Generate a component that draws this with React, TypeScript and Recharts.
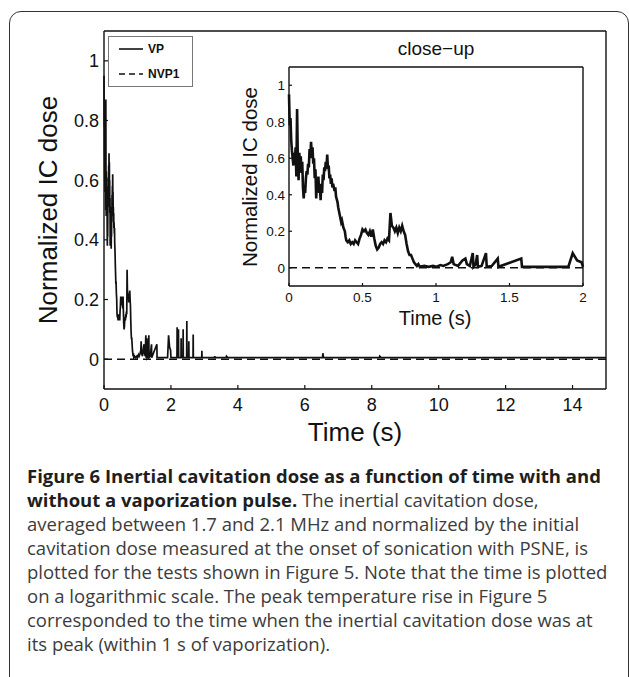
import { LineChart, Line, XAxis, YAxis } from "recharts";

// VP test: normalized inertial cavitation dose vs time (s)
const vpTime = [
  0, 0.005, 0.01, 0.015, 0.02, 0.025, 0.03, 0.035, 0.04, 0.045, 0.05, 0.055, 0.06, 0.065, 0.07, 0.075, 0.08,
  0.085, 0.09, 0.095, 0.1, 0.105, 0.11, 0.115, 0.12, 0.125, 0.13, 0.135, 0.14, 0.145, 0.15, 0.155, 0.16,
  0.165, 0.17, 0.175, 0.18, 0.185, 0.19, 0.195, 0.2, 0.205, 0.21, 0.215, 0.22, 0.225, 0.23, 0.235, 0.24,
  0.245, 0.25, 0.255, 0.26, 0.265, 0.27, 0.275, 0.28, 0.285, 0.29, 0.295, 0.3, 0.31, 0.315, 0.32, 0.33,
  0.335, 0.34, 0.35, 0.355, 0.36, 0.37, 0.38, 0.385, 0.39, 0.4, 0.41, 0.42, 0.43, 0.44, 0.45, 0.46, 0.47,
  0.48, 0.49, 0.5, 0.51, 0.52, 0.53, 0.54, 0.55, 0.56, 0.57, 0.58, 0.59, 0.6, 0.61, 0.62, 0.63, 0.64, 0.65,
  0.66, 0.67, 0.68, 0.69, 0.7, 0.71, 0.72, 0.73, 0.74, 0.75, 0.76, 0.77, 0.78, 0.79, 0.8, 0.81, 0.82, 0.83,
  0.84, 0.85, 0.86, 0.87, 0.88, 0.89, 0.92, 0.95, 0.98, 1.0, 1.03, 1.05, 1.08, 1.1, 1.11, 1.12, 1.15, 1.18,
  1.2, 1.21, 1.23, 1.25, 1.255, 1.27, 1.28, 1.285, 1.31, 1.34, 1.345, 1.38, 1.42, 1.425, 1.58, 1.585, 1.9,
  1.93, 1.96, 1.99, 2.0, 2.18, 2.185, 2.19, 2.22, 2.225, 2.23, 2.3, 2.305, 2.31, 2.36, 2.365, 2.37, 2.47,
  2.475, 2.48, 2.53, 2.535, 2.54, 2.66, 2.665, 2.67, 2.92, 2.925, 2.93, 3.3, 3.31, 3.32, 3.65, 3.66, 3.7,
  6.53, 6.54, 6.56, 8.23, 8.24, 8.28, 15,
];
const vpDose = [
  0.95, 0.78, 0.82, 0.7, 0.64, 0.6, 0.56, 0.63, 0.58, 0.66, 0.5, 0.87, 0.6, 0.48, 0.63, 0.56, 0.61,
  0.52, 0.58, 0.44, 0.38, 0.45, 0.41, 0.49, 0.53, 0.51, 0.57, 0.55, 0.65, 0.6, 0.69, 0.62, 0.66,
  0.57, 0.6, 0.49, 0.54, 0.38, 0.48, 0.43, 0.5, 0.41, 0.45, 0.37, 0.46, 0.41, 0.51, 0.48, 0.55,
  0.53, 0.58, 0.55, 0.62, 0.54, 0.56, 0.49, 0.51, 0.46, 0.49, 0.44, 0.46, 0.42, 0.44, 0.39, 0.36,
  0.33, 0.31, 0.27, 0.25, 0.26, 0.22, 0.2, 0.17, 0.15, 0.14, 0.15, 0.13, 0.14, 0.13, 0.15, 0.14, 0.13,
  0.16, 0.18, 0.21, 0.2, 0.21, 0.19, 0.18, 0.2, 0.17, 0.21, 0.16, 0.12, 0.1, 0.11, 0.13, 0.14, 0.13, 0.15,
  0.14, 0.16, 0.15, 0.3, 0.23, 0.22, 0.2, 0.22, 0.19, 0.22, 0.2, 0.23, 0.2, 0.18, 0.13, 0.09, 0.07, 0.07,
  0.05, 0.03, 0.02, 0.01, 0.02, 0.005, 0.01, 0.005, 0.01, 0.005, 0.015, 0.01, 0.02, 0.03, 0.06, 0.02, 0.01, 0.04,
  0.05, 0.02, 0.01, 0.08, 0.005, 0.02, 0.07, 0.005, 0.01, 0.08, 0.005, 0.01, 0.05, 0.005, 0.05, 0.005, 0.005,
  0.08, 0.04, 0.03, 0.005, 0.005, 0.107, 0.005, 0.005, 0.1, 0.005, 0.005, 0.07, 0.005, 0.005, 0.1, 0.005, 0.005,
  0.128, 0.005, 0.005, 0.06, 0.005, 0.005, 0.083, 0.005, 0.005, 0.028, 0.005, 0.005, 0.01, 0.005, 0.005, 0.01, 0.005,
  0.005, 0.02, 0.005, 0.005, 0.01, 0.005, 0.005,
];

// NVP1 test stays at zero
const nvpTime = [0, 15];
const nvpDose = [0, 0];

const mainXTicks = [0, 2, 4, 6, 8, 10, 12, 14];
const doseTicks = [0, 0.2, 0.4, 0.6, 0.8, 1];
const closeXTicks = [0, 0.5, 1, 1.5, 2];

const captionBold = [
  "Figure 6 Inertial cavitation dose as a function of time with and",
  "without a vaporization pulse.",
];
const captionLines = [
  " The inertial cavitation dose,",
  "averaged between 1.7 and 2.1 MHz and normalized by the initial",
  "cavitation dose measured at the onset of sonication with PSNE, is",
  "plotted for the tests shown in Figure 5. Note that the time is plotted",
  "on a logarithmic scale. The peak temperature rise in Figure 5",
  "corresponded to the time when the inertial cavitation dose was at",
  "its peak (within 1 s of vaporization).",
];

const vp = vpTime.map((t, i) => ({ t, v: vpDose[i] }));
const nvp = nvpTime.map((t, i) => ({ t, v: nvpDose[i] }));
const vpClose = vp.filter((d) => d.t <= 2);
const nvpClose = [{ t: 0, v: 0 }, { t: 2, v: 0 }];

const AX = "Liberation Sans, Arial, sans-serif";
const INK = "#111";

const fmt = (v: number) => String(v);

// ticks point inward, labels sit outside
// eslint-disable-next-line @typescript-eslint/no-explicit-any
const bottomTick = (len: number, gap: number, size: number) => (p: any) => (
  <g>
    <line x1={p.x} x2={p.x} y1={p.y} y2={p.y - len} stroke={INK} strokeWidth={1.2} />
    <text x={p.x} y={p.y + gap} textAnchor="middle" fontSize={size} fontFamily={AX} fill={INK}>
      {fmt(p.payload.value)}
    </text>
  </g>
);
// eslint-disable-next-line @typescript-eslint/no-explicit-any
const leftTick = (len: number, gap: number, size: number) => (p: any) => (
  <g>
    <line x1={p.x} x2={p.x + len} y1={p.y} y2={p.y} stroke={INK} strokeWidth={1.2} />
    <text x={p.x - gap} y={p.y + size * 0.36} textAnchor="end" fontSize={size} fontFamily={AX} fill={INK}>
      {fmt(p.payload.value)}
    </text>
  </g>
);
// eslint-disable-next-line @typescript-eslint/no-explicit-any
const topTick = (len: number) => (p: any) => (
  <line x1={p.x} x2={p.x} y1={p.y} y2={p.y + len} stroke={INK} strokeWidth={1.2} />
);
// eslint-disable-next-line @typescript-eslint/no-explicit-any
const rightTick = (len: number) => (p: any) => (
  <line x1={p.x} x2={p.x - len} y1={p.y} y2={p.y} stroke={INK} strokeWidth={1.2} />
);

const axisLine = { stroke: INK, strokeWidth: 1.4 };

function Label({ x, y, size, rotate, children }: { x: number; y: number; size: number; rotate?: boolean; children: string }) {
  return (
    <div
      style={{
        position: "absolute",
        left: x,
        top: y,
        transform: `translate(-50%, -50%)${rotate ? " rotate(-90deg)" : ""}`,
        fontFamily: AX,
        fontSize: size,
        lineHeight: 1,
        whiteSpace: "nowrap",
        color: INK,
      }}
    >
      {children}
    </div>
  );
}

function LegendBox() {
  const row = (dash: string | undefined, text: string, top: number) => (
    <div style={{ position: "absolute", left: 10, top, display: "flex", alignItems: "center" }}>
      <svg width={24} height={4}>
        <line x1={0} x2={24} y1={2} y2={2} stroke={INK} strokeWidth={1.6} strokeDasharray={dash} />
      </svg>
      <span style={{ marginLeft: 5, fontFamily: AX, fontWeight: 700, fontSize: 12, lineHeight: "12px", color: INK }}>
        {text}
      </span>
    </div>
  );
  return (
    <div
      style={{
        position: "absolute",
        left: 108,
        top: 36,
        width: 85,
        height: 51,
        boxSizing: "border-box",
        border: "1px solid #777",
        background: "#fff",
      }}
    >
      {row(undefined, "VP", 6)}
      {row("6 4", "NVP1", 31)}
    </div>
  );
}

export default function App() {
  return (
    <div style={{ position: "fixed", left: 0, top: 0, width: 629, height: 677, overflow: "hidden", background: "#fff" }}>
      <div
        style={{
          position: "absolute",
          left: 9,
          top: 11,
          width: 620,
          height: 720,
          boxSizing: "border-box",
          border: "1.5px solid #333",
          borderRadius: 12,
        }}
      />

      {/* main plot: plot area 104..606 x 31..389 */}
      <div style={{ position: "absolute", left: 0, top: 0 }}>
        <LineChart width={629} height={460} margin={{ top: 30, left: 103, right: 22, bottom: 70 }}>
          <XAxis
            dataKey="t"
            type="number"
            domain={[0, 15]}
            ticks={mainXTicks}
            height={1}
            tickSize={0}
            tickMargin={0}
            tickLine={false}
            axisLine={axisLine}
            tick={bottomTick(4, 22, 18)}
            interval={0}
          />
          <XAxis
            xAxisId="top"
            orientation="top"
            type="number"
            domain={[0, 15]}
            ticks={mainXTicks}
            height={1}
            tickSize={0}
            tickMargin={0}
            tickLine={false}
            axisLine={axisLine}
            tick={topTick(4)}
            interval={0}
          />
          <YAxis
            type="number"
            domain={[-0.1, 1.1]}
            ticks={doseTicks}
            width={1}
            tickSize={0}
            tickMargin={0}
            tickLine={false}
            axisLine={axisLine}
            tick={leftTick(4, 5, 18)}
            interval={0}
          />
          <YAxis
            yAxisId="right"
            orientation="right"
            type="number"
            domain={[-0.1, 1.1]}
            ticks={doseTicks}
            width={1}
            tickSize={0}
            tickMargin={0}
            tickLine={false}
            axisLine={axisLine}
            tick={rightTick(4)}
            interval={0}
          />
          <Line data={nvp} dataKey="v" stroke={INK} strokeWidth={1.5} strokeDasharray="8 5" dot={false} isAnimationActive={false} />
          <Line data={vp} dataKey="v" stroke={INK} strokeWidth={1.7} dot={false} isAnimationActive={false} />
        </LineChart>
      </div>

      {/* close-up inset: plot area 289..583 x 67..286 */}
      <div style={{ position: "absolute", left: 230, top: 30 }}>
        <LineChart width={380} height={310} margin={{ top: 36, left: 58, right: 26, bottom: 53 }}>
          <XAxis
            dataKey="t"
            type="number"
            domain={[0, 2]}
            ticks={closeXTicks}
            height={1}
            tickSize={0}
            tickMargin={0}
            tickLine={false}
            axisLine={axisLine}
            tick={bottomTick(3, 16, 13.5)}
            interval={0}
          />
          <XAxis
            xAxisId="top"
            orientation="top"
            type="number"
            domain={[0, 2]}
            ticks={closeXTicks}
            height={1}
            tickSize={0}
            tickMargin={0}
            tickLine={false}
            axisLine={axisLine}
            tick={topTick(3)}
            interval={0}
          />
          <YAxis
            type="number"
            domain={[-0.1, 1.1]}
            ticks={doseTicks}
            width={1}
            tickSize={0}
            tickMargin={0}
            tickLine={false}
            axisLine={axisLine}
            tick={leftTick(3, 4, 13.5)}
            interval={0}
          />
          <YAxis
            yAxisId="right"
            orientation="right"
            type="number"
            domain={[-0.1, 1.1]}
            ticks={doseTicks}
            width={1}
            tickSize={0}
            tickMargin={0}
            tickLine={false}
            axisLine={axisLine}
            tick={rightTick(3)}
            interval={0}
          />
          <Line data={nvpClose} dataKey="v" stroke={INK} strokeWidth={1.5} strokeDasharray="8 5" dot={false} isAnimationActive={false} />
          <Line data={vpClose} dataKey="v" stroke={INK} strokeWidth={2.6} dot={false} isAnimationActive={false} />
        </LineChart>
      </div>

      <LegendBox />

      <Label x={48} y={210} size={26} rotate>Normalized IC dose</Label>
      <Label x={355} y={432} size={26}>Time (s)</Label>
      <Label x={250} y={177} size={20.5} rotate>Normalized IC dose</Label>
      <Label x={435} y={318} size={20}>Time (s)</Label>
      <Label x={436} y={48} size={19}>close−up</Label>

      <div
        style={{
          position: "absolute",
          left: 27,
          top: 464,
          width: 600,
          fontFamily: "Open Sans, sans-serif",
          fontSize: 18.5,
          lineHeight: "24px",
          color: "#3c3c3c",
          whiteSpace: "nowrap",
        }}
      >
        <div style={{ fontWeight: 700, color: "#1e1e1e" }}>{captionBold[0]}</div>
        <div>
          <span style={{ fontWeight: 700, color: "#1e1e1e" }}>{captionBold[1]}</span>
          {captionLines[0]}
        </div>
        {captionLines.slice(1).map((l) => (
          <div key={l}>{l}</div>
        ))}
      </div>
    </div>
  );
}
